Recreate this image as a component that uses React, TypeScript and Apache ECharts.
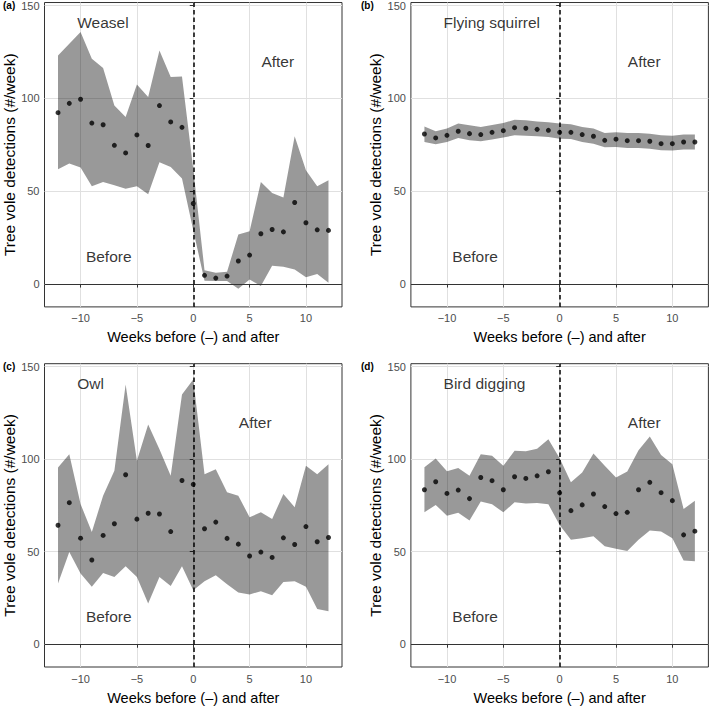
import React, { useEffect, useRef } from 'react';
import * as echarts from 'echarts';

// ---------- data ----------
const weeks = [-12, -11, -10, -9, -8, -7, -6, -5, -4, -3, -2, -1, 0, 1, 2, 3, 4, 5, 6, 7, 8, 9, 10, 11, 12];

const weaselMean = [92.3, 97.3, 99.5, 86.7, 85.8, 74.7, 70.6, 80.3, 74.6, 96.1, 87.3, 84.4, 43.4, 4.7, 3.2, 4.3, 12.4, 15.6, 27.1, 29.4, 28.1, 43.9, 33.0, 29.2, 28.9];
const weaselUpper = [123.1, 129.4, 135.7, 121.3, 116.3, 96.2, 90.0, 107.5, 100.7, 125.8, 111.5, 111.8, 62.0, 7.5, 6.1, 6.6, 26.7, 28.5, 55.0, 49.1, 46.6, 79.6, 61.3, 52.7, 55.9];
const weaselLower = [61.8, 64.9, 62.7, 52.7, 55.0, 53.2, 51.3, 52.7, 48.4, 65.6, 63.1, 56.8, 29.0, 1.8, 1.6, 1.6, -2.5, 2.5, -1.1, 9.9, 9.3, 7.9, 3.6, 5.4, 0.7];

const squirrelMean = [80.8, 78.7, 80.1, 82.3, 81.0, 80.5, 81.7, 82.6, 84.2, 83.9, 83.3, 82.8, 81.7, 81.7, 80.5, 79.6, 77.4, 78.0, 77.2, 77.2, 76.9, 75.6, 75.6, 76.5, 76.5];
const squirrelUpper = [84.9, 82.3, 83.7, 86.4, 85.5, 84.6, 85.7, 86.7, 88.5, 88.2, 87.5, 87.1, 86.4, 86.0, 84.6, 83.7, 81.4, 81.7, 81.4, 81.4, 81.0, 80.1, 79.9, 80.6, 80.5];
const squirrelLower = [76.5, 75.3, 76.5, 78.7, 77.4, 76.9, 77.8, 78.9, 80.1, 79.9, 79.6, 79.2, 78.3, 78.1, 76.5, 75.6, 73.7, 73.8, 73.3, 73.3, 72.9, 72.0, 71.9, 72.4, 72.4];

const owlMean = [64.3, 76.5, 57.3, 45.5, 58.8, 65.1, 91.6, 67.6, 70.8, 70.4, 60.9, 88.5, 86.4, 62.4, 66.0, 57.2, 54.1, 47.7, 49.8, 46.9, 57.5, 53.9, 63.6, 55.4, 57.7];
const owlUpper = [95.5, 102.7, 75.8, 60.6, 80.3, 93.7, 140.3, 99.1, 118.8, 105.4, 91.0, 134.9, 143.0, 91.9, 94.6, 82.1, 80.3, 68.6, 71.3, 67.7, 81.2, 74.0, 96.4, 91.9, 97.3];
const owlLower = [32.8, 49.8, 38.2, 31.0, 38.5, 36.4, 42.1, 36.4, 22.0, 36.4, 31.5, 42.1, 29.2, 34.0, 37.3, 32.4, 28.0, 26.9, 28.7, 26.5, 33.7, 34.0, 31.0, 19.0, 17.8];

const birdMean = [83.5, 87.8, 81.5, 83.3, 78.7, 90.1, 88.4, 83.5, 90.5, 89.6, 91.0, 93.2, 81.8, 72.2, 75.3, 81.2, 74.4, 70.6, 71.3, 83.5, 87.5, 81.9, 77.6, 59.1, 61.1];
const birdUpper = [95.7, 100.4, 93.5, 95.2, 91.0, 102.7, 101.8, 96.4, 104.5, 104.3, 105.7, 110.8, 100.5, 87.5, 92.8, 103.1, 96.4, 90.1, 93.4, 104.8, 112.2, 102.2, 97.3, 73.1, 77.6];
const birdLower = [71.3, 75.3, 69.5, 71.0, 66.8, 77.1, 75.6, 71.3, 76.7, 76.0, 76.3, 75.6, 64.5, 56.5, 57.3, 58.4, 52.9, 51.6, 50.4, 56.5, 61.5, 60.9, 57.3, 45.3, 44.8];

const panelTags = ['(a)', '(b)', '(c)', '(d)'];
const panelNames = ['Weasel', 'Flying squirrel', 'Owl', 'Bird digging'];
const xTicks = [-10, -5, 0, 5, 10];
const yTicks = [0, 50, 100, 150];

// annotation anchor points (data units)
const nameAnchor = [-10.3, 141];
const beforeAnchor = [-7.5, 15];
const afterAnchors = [[7.5, 120], [7.5, 120], [5.5, 120], [7.5, 120]];

const panelData = [
  { mean: weaselMean, upper: weaselUpper, lower: weaselLower },
  { mean: squirrelMean, upper: squirrelUpper, lower: squirrelLower },
  { mean: owlMean, upper: owlUpper, lower: owlLower },
  { mean: birdMean, upper: birdUpper, lower: birdLower },
];

// ---------- layout ----------
const FONT = '"Liberation Sans", Arial, Helvetica, sans-serif';
const gridLefts = [44.5, 410.9, 44.5, 410.9];
const gridTops = [1.7, 1.7, 363.7, 363.7];
const GRID_W = 297.5;
const GRID_H = 305.2;
const X_MIN = -13.2;
const X_MAX = 13.2;
const Y_MIN = -12.3;
const Y_MAX = 151.6;

const fmt = (v: number) => (v < 0 ? '\u2212' + Math.abs(v) : String(v));

function ribbonRenderItem(params: any, api: any) {
  if (params.dataIndexInside !== 0) return { type: 'group', children: [] };
  const n = params.dataInsideLength;
  const top: number[][] = [];
  const bottom: number[][] = [];
  for (let k = 0; k < n; k++) {
    const x = api.value(0, k);
    top.push(api.coord([x, api.value(2, k)]));
    bottom.push(api.coord([x, api.value(1, k)]));
  }
  const points = top.concat(bottom.reverse());
  return {
    type: 'polygon',
    shape: { points },
    style: { fill: 'rgba(0,0,0,0.4)', stroke: 'none' },
  };
}

function buildOption() {
  const grid: any[] = [];
  const xAxis: any[] = [];
  const yAxis: any[] = [];
  const series: any[] = [];
  const graphic: any[] = [];

  panelData.forEach((p, i) => {
    grid.push({
      left: gridLefts[i],
      top: gridTops[i],
      width: GRID_W,
      height: GRID_H,
      show: true,
      borderColor: '#333333',
      borderWidth: 1,
      backgroundColor: 'transparent',
      containLabel: false,
    });
    xAxis.push({
      type: 'value',
      gridIndex: i,
      min: X_MIN,
      max: X_MAX,
      minInterval: 5,
      maxInterval: 5,
      axisLine: { show: false },
      axisTick: { show: true, length: 3.5, lineStyle: { color: '#333333' }, customValues: xTicks },
      axisLabel: {
        show: true,
        customValues: xTicks,
        color: '#4d4d4d',
        fontSize: 11,
        fontFamily: FONT,
        margin: 6,
        formatter: fmt,
      },
      splitLine: { show: true, lineStyle: { color: '#e0e0e0', width: 1 } },
      name: 'Weeks before (\u2013) and after',
      nameLocation: 'middle',
      nameGap: 23,
      nameTextStyle: { fontSize: 14.5, color: '#000000', fontFamily: FONT },
    });
    yAxis.push({
      type: 'value',
      gridIndex: i,
      min: Y_MIN,
      max: Y_MAX,
      minInterval: 50,
      maxInterval: 50,
      axisLine: { show: false },
      axisTick: { show: true, length: 3.5, lineStyle: { color: '#333333' }, customValues: yTicks },
      axisLabel: {
        show: true,
        customValues: yTicks,
        color: '#4d4d4d',
        fontSize: 11,
        fontFamily: FONT,
        margin: 5,
        formatter: fmt,
      },
      splitLine: { show: true, lineStyle: { color: '#e0e0e0', width: 1 } },
      name: 'Tree vole detections (#/week)',
      nameLocation: 'middle',
      nameGap: 27,
      nameTextStyle: { fontSize: 15.5, color: '#000000', fontFamily: FONT },
    });

    // ribbon
    series.push({
      type: 'custom',
      xAxisIndex: i,
      yAxisIndex: i,
      data: weeks.map((w, j) => [w, p.lower[j], p.upper[j]]),
      encode: { x: 0, y: [1, 2] },
      renderItem: ribbonRenderItem,
      silent: true,
      clip: true,
      z: 1,
    });
    // reference lines
    series.push({
      type: 'line',
      xAxisIndex: i,
      yAxisIndex: i,
      data: [],
      silent: true,
      z: 3,
      markLine: {
        silent: true,
        symbol: ['none', 'none'],
        label: { show: false },
        animation: false,
        data: [
          { yAxis: 0, lineStyle: { color: '#333333', width: 1, type: 'solid' } },
          { xAxis: 0, lineStyle: { color: '#000000', width: 1.5, type: [4.5, 3] } },
        ],
      },
    });
    // points
    series.push({
      type: 'scatter',
      xAxisIndex: i,
      yAxisIndex: i,
      data: weeks.map((w, j) => [w, p.mean[j]]),
      symbol: 'circle',
      symbolSize: 5,
      itemStyle: { color: '#000000' },
      silent: true,
      z: 4,
    });
    // text annotations
    series.push({
      type: 'scatter',
      xAxisIndex: i,
      yAxisIndex: i,
      symbolSize: 0,
      silent: true,
      z: 5,
      label: {
        show: true,
        formatter: '{b}',
        color: '#000000',
        fontSize: 15.5,
        fontFamily: FONT,
      },
      data: [
        { value: nameAnchor, name: panelNames[i], label: { position: 'right', distance: 0 } },
        { value: beforeAnchor, name: 'Before', label: { position: 'inside' } },
        { value: afterAnchors[i], name: 'After', label: { position: 'inside' } },
      ],
    });

    graphic.push({
      type: 'text',
      x: i % 2 === 0 ? 3 : 361,
      y: i < 2 ? 5 : 366.7,
      style: {
        text: panelTags[i],
        fontSize: 10,
        fontWeight: 'bold',
        fontFamily: FONT,
        fill: '#000000',
        verticalAlign: 'middle',
        align: 'left',
      },
    });
  });

  return {
    animation: false,
    backgroundColor: '#ffffff',
    grid,
    xAxis,
    yAxis,
    series,
    graphic,
  };
}

export default function App() {
  const ref = useRef<HTMLDivElement>(null);
  useEffect(() => {
    if (!ref.current) return;
    const chart = echarts.init(ref.current, undefined, { renderer: 'svg' });
    chart.setOption(buildOption() as any);
    return () => chart.dispose();
  }, []);
  return (
    <div
      ref={ref}
      style={{ position: 'fixed', left: 0, top: 0, width: 709, height: 706, background: '#ffffff' }}
    />
  );
}
